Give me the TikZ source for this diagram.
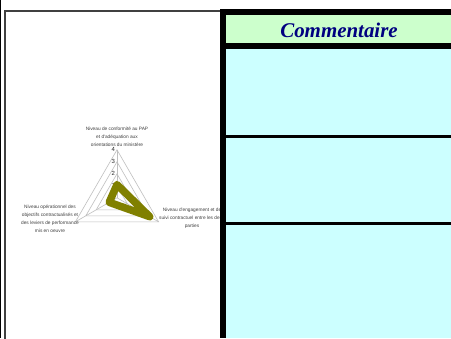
\documentclass[tikz,border=0pt]{standalone}
\usepackage{fontspec}
\setmainfont{Liberation Serif}
\newfontfamily\chartfont{Liberation Sans}
\usetikzlibrary{calc}
\definecolor{headgreen}{HTML}{CCFFCC}
\definecolor{bodycyan}{HTML}{CCFFFF}
\definecolor{titlenavy}{HTML}{000080}
\definecolor{seriesolive}{HTML}{808000}
\definecolor{framegray}{HTML}{404040}
\definecolor{gridgray}{HTML}{BFBFBF}
\tikzset{
  axislabel/.style={font=\chartfont\fontsize{4.8}{8}\selectfont, text=black!75, align=center, inner sep=0pt},
  ticklabel/.style={font=\chartfont\fontsize{6}{6}\selectfont, text=black!85, anchor=east, inner sep=0pt},
  ring/.style={draw=gridgray, line width=0.6bp},
  series/.style={draw=seriesolive, line width=7.5bp, line join=round},
}
\begin{document}
\begin{tikzpicture}[x=1bp, y=-1bp]
\useasboundingbox (0,0) rectangle (451,338);
\fill[white] (0,0) rectangle (451,338);

% outer sheet edge and chart frame
\draw[black, line width=1.2bp] (0.6,0) -- (0.6,338);
\draw[framegray, line width=1.6bp] (5,340) -- (5,11) -- (222,11);

% radar chart: centre, unit per grade, axis directions (y grows downward)
\coordinate (c) at (117,197.8);
\def\unit{12}
\def\cx{0.8660}
\def\sy{0.5}
\foreach \k in {1,2,3,4} {
  \draw[ring] ($(c)+(0,-\k*\unit)$) -- ($(c)+(\k*\unit*\cx,\k*\unit*\sy)$)
    -- ($(c)+(-\k*\unit*\cx,\k*\unit*\sy)$) -- cycle;
}
\coordinate (vtop) at ($(c)+(0,-4*\unit)$);
\coordinate (vright) at ($(c)+(4*\unit*\cx,4*\unit*\sy)$);
\coordinate (vleft) at ($(c)+(-4*\unit*\cx,4*\unit*\sy)$);
\draw[ring] (c) -- (vtop);
\draw[ring] (c) -- (vright);
\draw[ring] (c) -- (vleft);

% tick values along the vertical axis
\foreach \k in {0,1,2,3,4} {
  \node[ticklabel] (t\k) at ($(c)+(-1.8,-\k*\unit)$) {\k};
}

% data series
\coordinate (s1) at ($(c)+(0,-1.1*\unit)$);
\coordinate (s2) at ($(c)+(3.15*\unit*\cx,3.15*\unit*\sy)$);
\coordinate (s3) at ($(c)+(-0.75*\unit*\cx,0.75*\unit*\sy)$);
\draw[series] (s1) -- (s2) -- (s3) -- cycle;

% axis captions
\node[axislabel] (ltop) at (117,136.3) {Niveau de conformité au PAP\\et d'adéquation aux\\orientations du ministère};
\node[axislabel] (lleft) at (50,219) {Niveau opérationnel des\\objectifs contractualisés et\\des leviers de performance\\mis en oeuvre};
\node[axislabel] (lright) at (192,218.7) {Niveau d'engagement et de\\suivi contractuel entre les deux\\parties};

% comment panel
\fill[black] (220,9) rectangle (451,338);
\fill[headgreen] (226,15) rectangle (451,43.3);
\fill[bodycyan] (226,49.3) rectangle (451,135);
\fill[bodycyan] (226,138) rectangle (451,222);
\fill[bodycyan] (226,225) rectangle (451,338);
\node[font=\bfseries\itshape\fontsize{21}{24}\selectfont, text=titlenavy, inner sep=0pt] (title) at (339,30.5) {Commentaire};
\end{tikzpicture}
\end{document}
